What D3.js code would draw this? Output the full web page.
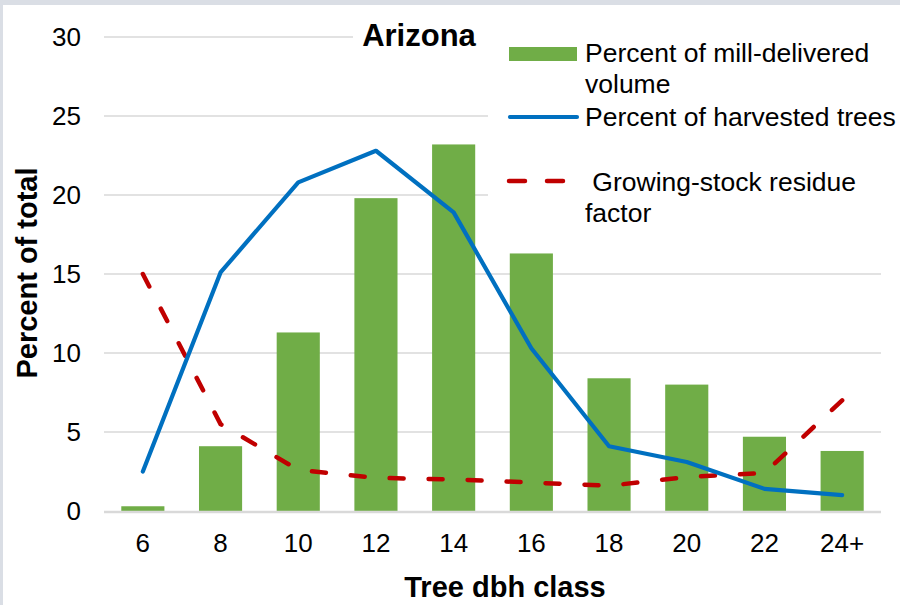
<!DOCTYPE html>
<html>
<head>
<meta charset="utf-8">
<script src="https://cdn.jsdelivr.net/npm/d3@7/dist/d3.min.js"></script>
<style>
  html, body { margin: 0; padding: 0; background: #dadee5; }
  svg { display: block; }
  text { font-family: "Liberation Sans", Arial, sans-serif; fill: #000; }
</style>
</head>
<body>
<svg id="chart" width="900" height="605"></svg>
<script>
const categories = ["6", "8", "10", "12", "14", "16", "18", "20", "22", "24+"];
const millVolume = [0.3, 4.1, 11.3, 19.8, 23.2, 16.3, 8.4, 8.0, 4.7, 3.8];
const harvestedTrees = [2.5, 15.1, 20.8, 22.8, 18.9, 10.3, 4.1, 3.1, 1.4, 1.0];
const residueFactor = [15.0, 5.5, 2.6, 2.1, 2.0, 1.8, 1.6, 2.15, 2.4, 7.0];
const yTicks = [0, 5, 10, 15, 20, 25, 30];
const chartTitle = "Arizona";
const legendLabels = [["Percent of mill-delivered", "volume"], ["Percent of harvested trees"], ["\u00a0Growing-stock residue", "factor"]];
const xTitle = "Tree dbh class";
const yTitle = "Percent of total";

(function () {
const svg = d3.select("#chart");
// panel
svg.append("rect").attr("x", 3).attr("y", 5).attr("width", 897).attr("height", 600).attr("fill", "#ffffff");

const pLeft = 104, pRight = 881, pTop = 37, pBottom = 511;
const x = d3.scaleBand().domain(categories).range([pLeft, pRight]).paddingInner(0.445).paddingOuter(0.2225);
const y = d3.scaleLinear().domain([0, 30]).range([pBottom, pTop]);
const cx = c => x(c) + x.bandwidth() / 2;

// gridlines
svg.append("g").selectAll("line").data(yTicks.filter(d => d !== 0)).join("line")
  .attr("x1", pLeft).attr("x2", pRight)
  .attr("y1", d => y(d)).attr("y2", d => y(d))
  .attr("stroke", "#d9d9d9").attr("stroke-width", 1.5);

// y tick labels
svg.append("g").selectAll("text").data(yTicks).join("text")
  .attr("x", 81).attr("y", d => y(d)).attr("dy", "0.36em")
  .attr("text-anchor", "end").attr("font-size", 26).text(d => d);

// bars
svg.append("g").selectAll("rect").data(categories).join("rect")
  .attr("x", d => x(d)).attr("width", x.bandwidth())
  .attr("y", (d, i) => y(millVolume[i]))
  .attr("height", (d, i) => y(0) - y(millVolume[i]))
  .attr("fill", "#70ad47");

// baseline
svg.append("line").attr("x1", pLeft).attr("x2", pRight).attr("y1", y(0) + 1).attr("y2", y(0) + 1)
  .attr("stroke", "#d9d9d9").attr("stroke-width", 2.5);

// x tick labels
svg.append("g").selectAll("text").data(categories).join("text")
  .attr("x", d => cx(d)).attr("y", 552)
  .attr("text-anchor", "middle").attr("font-size", 26).text(d => d);

// lines
const line = d3.line().x(d => cx(d.c)).y(d => y(d.v));
svg.append("path")
  .datum(categories.map((c, i) => ({ c, v: residueFactor[i] })))
  .attr("d", line).attr("fill", "none").attr("stroke", "#c00000")
  .attr("stroke-width", 4.5).attr("stroke-dasharray", "14,25").attr("stroke-linecap", "round");
svg.append("path")
  .datum(categories.map((c, i) => ({ c, v: harvestedTrees[i] })))
  .attr("d", line).attr("fill", "none").attr("stroke", "#0070c0")
  .attr("stroke-width", 4.2).attr("stroke-linecap", "round").attr("stroke-linejoin", "round");

// title box + title
svg.append("rect").attr("x", 353).attr("y", 18).attr("width", 135).attr("height", 38).attr("fill", "#ffffff");
svg.append("text").attr("x", 419).attr("y", 46).attr("text-anchor", "middle")
  .attr("font-size", 31).attr("font-weight", "bold").text(chartTitle);

// legend box
svg.append("rect").attr("x", 488).attr("y", 28).attr("width", 412).attr("height", 205).attr("fill", "#ffffff");
const lg = svg.append("g");
lg.append("rect").attr("x", 509).attr("y", 47).attr("width", 68).attr("height", 14).attr("fill", "#70ad47");
lg.append("line").attr("x1", 510).attr("x2", 577).attr("y1", 117).attr("y2", 117)
  .attr("stroke", "#0070c0").attr("stroke-width", 4.2).attr("stroke-linecap", "round");
lg.append("line").attr("x1", 509).attr("x2", 565).attr("y1", 181).attr("y2", 181)
  .attr("stroke", "#c00000").attr("stroke-width", 4.5).attr("stroke-dasharray", "16,22").attr("stroke-linecap", "round");
const legendY = [62, 126, 191];
legendLabels.forEach((lines, i) => {
  const t = lg.append("text").attr("x", 585).attr("y", legendY[i]).attr("font-size", 26.5);
  lines.forEach((s, j) => t.append("tspan").attr("x", 585).attr("dy", j === 0 ? 0 : 31).text(s));
});

// axis titles
svg.append("text").attr("x", 505).attr("y", 597).attr("text-anchor", "middle")
  .attr("font-size", 29).attr("font-weight", "bold").text(xTitle);
svg.append("text").attr("transform", "translate(37,273) rotate(-90)").attr("text-anchor", "middle")
  .attr("font-size", 29).attr("font-weight", "bold").text(yTitle);
})();
</script>
</body>
</html>
